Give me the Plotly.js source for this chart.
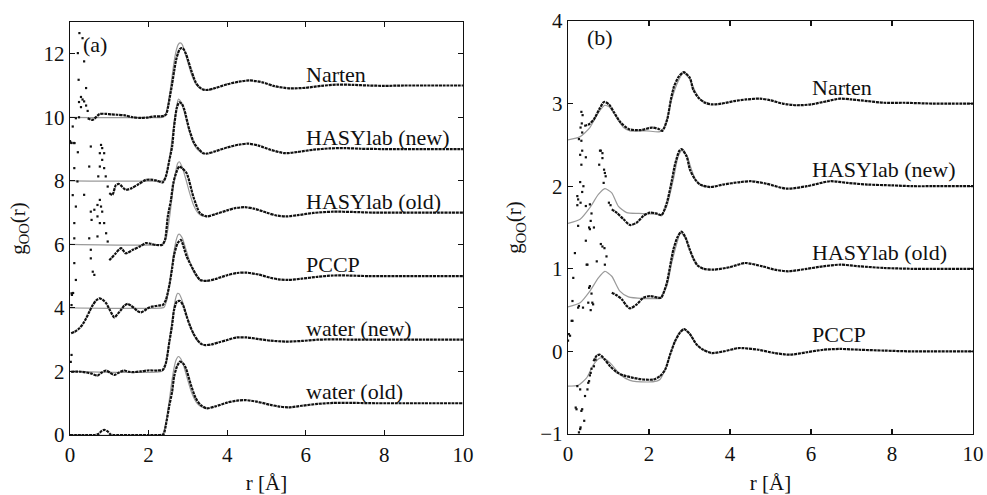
<!DOCTYPE html>
<html>
<head>
<meta charset="utf-8">
<script src="https://cdn.plot.ly/plotly-3.0.1.min.js"></script>
<style>
  html, body { margin: 0; padding: 0; background: #ffffff; }
  #chart { width: 987px; height: 495px; }
</style>
</head>
<body>
<div id="chart"></div>
<script>
// ---------- panel (a): g_OO(r), curves shifted by fixed offsets ----------
const labelsA = ["Narten", "HASYlab (new)", "HASYlab (old)", "PCCP", "water (new)", "water (old)"];
const offsetsA = [10, 8, 6, 4, 2, 0];

// measured data (smooth part)
const rNartenA = [0.45,0.58,0.75,0.9,1.05,1.2,1.4,1.6,1.8,2.0,2.15,2.3,2.4,2.45,2.5,2.55,2.6,2.65,2.7,2.75,2.8,2.85,2.9,2.95,3.0,3.08,3.15,3.2,3.3,3.4,3.5,3.7,4.0,4.3,4.58,4.9,5.2,5.6,6.0,6.4,6.8,7.2,7.6,8.0,8.5,9.0,9.5,10.0];
const gNartenA = [-0.03,-0.08,0.1,0.11,0.09,0.08,0.06,0.0,-0.02,0.0,0.03,0.03,0.05,0.1,0.35,0.7,1.05,1.45,1.8,2.02,2.15,2.18,2.13,2.0,1.82,1.5,1.25,1.1,0.94,0.87,0.86,0.92,1.04,1.12,1.16,1.1,0.98,0.91,0.93,0.99,1.03,1.02,1.0,0.99,1.0,1.0,1.0,1.0];
const rHasyNewA = [1.0,1.08,1.17,1.25,1.42,1.57,1.75,1.93,2.05,2.2,2.36,2.44,2.53,2.6,2.65,2.72,2.78,2.85,2.91,3.04,3.16,3.29,3.39,3.5,3.7,4.0,4.3,4.54,4.8,5.1,5.47,5.8,6.2,6.6,7.0,7.4,8.0,8.5,9.0,9.5,10.0];
const gHasyNewA = [-0.39,-0.44,-0.13,-0.1,-0.28,-0.23,-0.1,0.03,0.04,0.01,-0.05,0.14,0.66,1.08,1.71,2.3,2.47,2.42,2.24,1.6,1.19,0.98,0.87,0.86,0.93,1.05,1.14,1.17,1.11,0.98,0.87,0.91,0.98,1.02,1.03,1.01,1.0,1.0,1.0,1.0,1.0];
const rHasyOldA = [1.0,1.05,1.15,1.3,1.42,1.6,1.8,1.93,2.05,2.2,2.35,2.42,2.49,2.57,2.63,2.7,2.78,2.85,2.97,3.14,3.31,3.48,3.7,4.0,4.2,4.45,4.7,5.0,5.25,5.51,5.8,6.2,6.7,7.2,7.7,8.5,9.0,10.0];
const gHasyOldA = [-0.5,-0.44,-0.3,-0.12,-0.28,-0.17,-0.05,0.04,0.02,-0.02,-0.01,0.15,0.88,1.4,1.93,2.24,2.45,2.4,2.24,1.5,0.98,0.88,0.95,1.07,1.14,1.17,1.12,1.0,0.91,0.88,0.92,0.99,1.03,1.02,1.0,1.0,1.0,1.0];
const rPccpA = [0.03,0.12,0.24,0.33,0.41,0.5,0.58,0.67,0.75,0.83,0.92,1.02,1.13,1.22,1.3,1.38,1.47,1.55,1.64,1.72,1.81,1.9,1.98,2.08,2.19,2.3,2.36,2.44,2.53,2.6,2.65,2.74,2.82,2.97,3.14,3.31,3.48,3.7,4.0,4.25,4.5,4.8,5.1,5.3,5.56,5.9,6.3,6.7,7.1,7.6,8.0,8.5,9.0,10.0];
const gPccpA = [-0.8,-0.75,-0.64,-0.5,-0.33,-0.1,0.09,0.24,0.3,0.26,0.15,-0.08,-0.3,-0.18,-0.06,0.07,0.13,0.07,-0.01,-0.1,-0.14,-0.08,-0.01,0.04,0.06,0.08,0.09,0.25,0.72,1.25,1.67,2.04,2.14,1.62,1.2,0.88,0.85,0.91,1.03,1.1,1.11,1.05,0.95,0.9,0.88,0.92,0.98,1.02,1.02,1.0,1.0,1.0,1.0,1.0];
const rWaterNewA = [0.03,0.28,0.53,0.7,0.8,0.92,1.02,1.13,1.25,1.38,1.5,1.6,1.8,1.98,2.23,2.36,2.44,2.53,2.6,2.65,2.72,2.8,2.88,2.97,3.06,3.14,3.25,3.35,3.44,3.6,3.8,4.0,4.24,4.5,4.8,5.1,5.5,5.9,6.3,6.8,7.3,8.0,9.0,10.0];
const gWaterNewA = [-0.01,-0.01,-0.06,-0.13,-0.04,0.03,-0.04,-0.11,-0.03,0.03,-0.01,-0.02,0.0,0.03,0.03,0.05,0.26,0.94,1.46,1.94,2.2,2.22,2.08,1.73,1.42,1.2,0.98,0.86,0.83,0.85,0.92,0.99,1.07,1.07,1.02,0.97,0.94,0.96,1.0,1.01,1.0,1.0,1.0,1.0];
const rWaterOldA = [0.0,0.3,0.6,0.72,0.8,0.87,0.95,1.03,1.1,1.5,2.0,2.3,2.38,2.44,2.53,2.6,2.65,2.72,2.8,2.88,2.95,3.08,3.2,3.33,3.48,3.7,4.0,4.25,4.45,4.75,5.1,5.3,5.56,5.9,6.3,6.7,7.2,7.8,8.5,9.0,10.0];
const gWaterOldA = [0.0,0.0,0.0,0.03,0.12,0.16,0.12,0.02,0.0,0.0,0.0,0.0,0.02,0.31,0.94,1.36,1.84,2.15,2.31,2.25,2.1,1.57,1.16,0.94,0.84,0.9,1.02,1.08,1.1,1.05,0.95,0.9,0.87,0.92,0.98,1.01,1.01,1.0,1.0,1.0,1.0];

// fitted model curves
const rNartenAFit = [0,2.35,2.4,2.45,2.5,2.55,2.6,2.65,2.7,2.75,2.8,2.85,2.9,3.0,3.1,3.2,3.3,3.4,3.5,3.7];
const gNartenAFit = [0,0,0.02,0.15,0.45,0.85,1.3,1.75,2.08,2.28,2.34,2.3,2.15,1.72,1.32,1.05,0.92,0.87,0.86,0.92];
const rHasyNewAFit = [0,2.35,2.4,2.45,2.5,2.55,2.6,2.65,2.7,2.76,2.82,2.9,3.0,3.1,3.2,3.3,3.4,3.5];
const gHasyNewAFit = [0,0,0.02,0.15,0.45,0.85,1.35,1.85,2.25,2.57,2.5,2.2,1.72,1.3,1.05,0.92,0.86,0.86];
const rHasyOldAFit = [0,2.35,2.4,2.45,2.5,2.55,2.6,2.65,2.7,2.74,2.78,2.85,2.95,3.05,3.15,3.25,3.35,3.48];
const gHasyOldAFit = [0,0,0.05,0.2,0.55,1.0,1.5,1.98,2.35,2.55,2.6,2.45,2.05,1.6,1.22,1.0,0.9,0.87];
const rPccpAFit = [0,2.35,2.4,2.45,2.5,2.55,2.6,2.65,2.7,2.75,2.78,2.85,2.95,3.05,3.15,3.25,3.35,3.48];
const gPccpAFit = [0,0,0.03,0.18,0.5,0.9,1.35,1.8,2.12,2.3,2.32,2.22,1.85,1.45,1.12,0.95,0.87,0.85];
const rWaterNewAFit = [0,2.33,2.4,2.45,2.5,2.55,2.6,2.65,2.7,2.74,2.78,2.85,2.95,3.05,3.15,3.25,3.35,3.44];
const gWaterNewAFit = [0,0,0.08,0.3,0.7,1.15,1.62,2.05,2.35,2.46,2.44,2.25,1.85,1.45,1.15,0.95,0.86,0.83];
const rWaterOldAFit = [0,2.3,2.35,2.4,2.45,2.5,2.55,2.6,2.65,2.7,2.76,2.82,2.9,3.0,3.1,3.2,3.3,3.4,3.48];
const gWaterOldAFit = [0,0,0.02,0.15,0.45,0.85,1.3,1.75,2.12,2.36,2.47,2.4,2.15,1.72,1.32,1.06,0.92,0.86,0.84];

// sparse low-r data points
const rNartenAPts = [0.0,0.03,0.07,0.11,0.15,0.2,0.22,0.23,0.23,0.24,0.28,0.28,0.32,0.32,0.36,0.36,0.41,0.41,0.45];
const gNartenAPts = [-0.76,-0.8,-0.29,-0.81,-0.03,2.02,1.18,0.48,0.0,2.65,0.64,0.32,2.49,0.56,1.76,0.5,0.92,0.37,0.2];
const rHasyNewAPts = [0.0,0.04,0.07,0.11,0.11,0.19,0.2,0.36,0.49,0.53,0.72,0.76,0.76,0.79,0.82,0.82,0.87,0.87,0.91,0.96];
const gHasyNewAPts = [1.24,1.19,-0.45,1.19,0.4,-0.02,0.9,-0.44,0.45,1.08,0.14,0.87,0.45,1.13,1.03,0.66,0.87,0.4,0.14,-0.18];
const rHasyOldAPts = [0.11,0.11,0.11,0.15,0.15,0.49,0.53,0.53,0.53,0.55,0.58,0.62,0.62,0.7,0.7,0.7,0.76,0.76,0.79,0.82,0.87,0.92,0.96];
const gHasyOldAPts = [0.67,0.19,-0.59,1.19,-1.12,0.19,1.03,-0.17,-0.44,0.77,-0.86,1.09,-0.96,1.24,0.88,0.25,0.67,1.4,1.19,1.03,0.67,0.35,0.09];
const rPccpAPts = [0.04,0.05,0.04,0.08];
const gPccpAPts = [0.46,0.41,0.09,0.47];
const rWaterNewAPts = [0.04,0.02];
const gWaterNewAPts = [0.52,0.3];

// ---------- panel (b): curves shifted by fixed offsets ----------
const labelsB = ["Narten", "HASYlab (new)", "HASYlab (old)", "PCCP"];
const offsetsB = [3, 2, 1, 0];

const rNartenB = [0.4,0.52,0.64,0.77,0.89,1.01,1.14,1.3,1.51,1.8,2.08,2.25,2.33,2.45,2.54,2.62,2.74,2.86,3.01,3.09,3.22,3.38,3.55,3.8,4.1,4.4,4.74,5.0,5.3,5.64,6.0,6.4,6.72,7.0,7.4,7.8,8.3,9.0,9.5,10.0];
const gNartenB = [-0.27,-0.25,-0.19,-0.07,0.02,-0.01,-0.11,-0.23,-0.31,-0.32,-0.29,-0.31,-0.33,-0.19,0.05,0.21,0.33,0.38,0.31,0.17,0.07,0.01,-0.01,0.0,0.03,0.05,0.06,0.04,0.0,-0.02,-0.01,0.03,0.06,0.05,0.03,0.01,0.01,0.0,0.0,0.0];
const rHasyNewB = [1.08,1.2,1.37,1.53,1.7,1.86,2.02,2.19,2.31,2.44,2.56,2.64,2.75,2.8,2.93,3.01,3.14,3.26,3.51,3.83,4.25,4.53,4.9,5.4,5.9,6.47,6.9,7.4,8.0,8.5,9.0,10.0];
const gHasyNewB = [-0.28,-0.32,-0.4,-0.47,-0.44,-0.36,-0.32,-0.33,-0.35,-0.2,0.06,0.26,0.43,0.45,0.36,0.2,0.08,0.02,-0.01,0.02,0.05,0.06,0.03,-0.03,0.0,0.06,0.04,0.02,0.01,0.0,0.0,0.0];
const rHasyOldB = [1.08,1.2,1.33,1.45,1.53,1.7,1.86,2.02,2.23,2.3,2.44,2.52,2.6,2.7,2.8,2.9,3.0,3.1,3.2,3.35,3.6,4.0,4.37,4.8,5.1,5.44,5.9,6.3,6.72,7.2,7.8,8.5,9.0,10.0];
const gHasyOldB = [-0.29,-0.32,-0.37,-0.45,-0.48,-0.43,-0.35,-0.33,-0.35,-0.35,-0.17,0.03,0.23,0.38,0.45,0.38,0.24,0.12,0.04,0.0,-0.01,0.02,0.07,0.03,-0.01,-0.03,0.0,0.03,0.05,0.03,0.01,0.0,0.0,0.0];
const rPccpB = [0.63,0.71,0.79,0.91,1.04,1.2,1.37,1.61,1.86,2.11,2.27,2.4,2.52,2.64,2.77,2.87,3.01,3.18,3.34,3.55,3.84,4.2,4.33,4.7,5.1,5.48,5.9,6.3,6.72,7.2,7.8,8.5,9.0,10.0];
const gPccpB = [-0.12,-0.05,-0.04,-0.1,-0.18,-0.25,-0.29,-0.32,-0.34,-0.34,-0.3,-0.22,-0.04,0.12,0.23,0.27,0.21,0.08,0.02,-0.02,0.0,0.04,0.04,0.02,-0.02,-0.04,-0.01,0.02,0.03,0.02,0.01,0.0,0.0,0.0];

const rNartenBFit = [0,0.3,0.54,0.75,0.91,1.04,1.2,1.37,1.53,1.94,2.27,2.4,2.56,2.72,2.85,3.0,3.15,3.3,3.5];
const gNartenBFit = [-0.44,-0.4,-0.29,-0.11,-0.02,-0.05,-0.17,-0.29,-0.33,-0.33,-0.34,-0.27,0.05,0.27,0.37,0.3,0.14,0.04,0.0];
const rHasyNewBFit = [0,0.3,0.54,0.75,0.91,1.08,1.24,1.45,1.75,2.19,2.3,2.44,2.6,2.72,2.83,2.95,3.05,3.15,3.3,3.5];
const gHasyNewBFit = [-0.45,-0.4,-0.26,-0.1,-0.03,-0.08,-0.24,-0.32,-0.33,-0.34,-0.35,-0.24,0.08,0.36,0.45,0.35,0.2,0.08,0.01,-0.01];
const rHasyOldBFit = [0,0.3,0.54,0.75,0.91,1.08,1.28,1.49,1.86,2.19,2.27,2.44,2.56,2.7,2.78,2.9,3.0,3.1,3.2,3.35];
const gHasyOldBFit = [-0.46,-0.41,-0.27,-0.11,-0.03,-0.09,-0.27,-0.34,-0.36,-0.36,-0.36,-0.21,0.07,0.33,0.44,0.37,0.24,0.12,0.04,0.0];
const rPccpBFit = [0,0.25,0.46,0.63,0.79,0.91,1.08,1.28,1.53,1.94,2.19,2.27,2.4,2.56,2.72,2.85,3.0,3.15,3.3,3.5];
const gPccpBFit = [-0.42,-0.41,-0.32,-0.16,-0.08,-0.09,-0.16,-0.28,-0.35,-0.37,-0.36,-0.34,-0.22,0.02,0.21,0.27,0.21,0.1,0.03,-0.01];

const rNartenBPts = [0.27,0.31,0.33,0.33,0.34,0.35,0.36];
const gNartenBPts = [-0.43,-0.29,-0.1,-0.45,-0.24,-0.35,-0.14];
const rHasyNewBPts = [0.23,0.23,0.25,0.25,0.3,0.3,0.31,0.33,0.35,0.35,0.38,0.44,0.44,0.52,0.54,0.54,0.56,0.58,0.64,0.77,0.79,0.81,0.85,0.85,0.88,0.89,0.91,0.93,1.01,1.05];
const gHasyNewBPts = [-0.12,-0.23,-0.16,-0.48,0.38,0.05,-0.2,0.26,0.43,-0.07,0.0,0.35,-0.24,-0.5,-0.22,-0.52,-0.42,-0.33,-0.5,0.26,0.43,0.43,0.4,0.34,0.04,0.2,0.16,0.12,-0.2,-0.23];
const rHasyOldBPts = [0.0,0.02,0.05,0.09,0.11,0.11,0.13,0.17,0.25,0.27,0.37,0.44,0.46,0.48,0.5,0.52,0.54,0.56,0.58,0.6,0.62,0.71,0.81,0.85,0.9,0.91,0.95];
const gHasyOldBPts = [-0.87,-0.79,-0.81,-0.63,-0.39,-0.63,-0.11,0.19,-0.47,-0.45,-0.47,0.34,0.05,0.05,-0.41,-0.23,-0.21,-0.5,-0.3,-0.41,-0.43,0.09,0.3,0.27,0.25,0.05,0.15];
const rPccpBPts = [0.19,0.21,0.23,0.27,0.3,0.3,0.31,0.33,0.35,0.4,0.42,0.48,0.5,0.52,0.54,0.56,0.58,0.64,0.68];
const gPccpBPts = [-0.68,-0.7,-0.42,-0.98,-0.46,-0.94,-0.92,-0.72,-0.7,-0.84,-0.54,-0.46,-0.38,-0.36,-0.29,-0.26,-0.21,-0.18,-0.1];

// ---------- assembling traces ----------
const FONT = "Liberation Serif, Times New Roman, serif";
const INK = "#111111";
const DATA_LINE = { color: INK, width: 2.2, dash: "3px,0.8px", shape: "spline", smoothing: 0.7 };
const FIT_LINE = { color: "#9a9a9a", width: 1.2, shape: "spline", smoothing: 0.6 };
const PTS_MARKER = { color: INK, size: 2.2, symbol: "square" };

const shift = (arr, off) => arr.map(v => v + off);
const traces = [];

function addSeries(xa, ya, off, fitR, fitG, r, g, ptsR, ptsG) {
  traces.push({ x: fitR, y: shift(fitG, off), xaxis: xa, yaxis: ya, mode: "lines",
                line: FIT_LINE, hoverinfo: "skip" });
  traces.push({ x: r, y: shift(g, off), xaxis: xa, yaxis: ya, mode: "lines",
                line: DATA_LINE, hoverinfo: "skip" });
  if (ptsR) {
    traces.push({ x: ptsR, y: shift(ptsG, off), xaxis: xa, yaxis: ya, mode: "markers",
                  marker: PTS_MARKER, hoverinfo: "skip" });
  }
}

addSeries("x", "y", offsetsA[0], rNartenAFit, gNartenAFit, rNartenA, gNartenA, rNartenAPts, gNartenAPts);
addSeries("x", "y", offsetsA[1], rHasyNewAFit, gHasyNewAFit, rHasyNewA, gHasyNewA, rHasyNewAPts, gHasyNewAPts);
addSeries("x", "y", offsetsA[2], rHasyOldAFit, gHasyOldAFit, rHasyOldA, gHasyOldA, rHasyOldAPts, gHasyOldAPts);
addSeries("x", "y", offsetsA[3], rPccpAFit, gPccpAFit, rPccpA, gPccpA, rPccpAPts, gPccpAPts);
addSeries("x", "y", offsetsA[4], rWaterNewAFit, gWaterNewAFit, rWaterNewA, gWaterNewA, rWaterNewAPts, gWaterNewAPts);
addSeries("x", "y", offsetsA[5], rWaterOldAFit, gWaterOldAFit, rWaterOldA, gWaterOldA, null, null);

addSeries("x2", "y2", offsetsB[0], rNartenBFit, gNartenBFit, rNartenB, gNartenB, rNartenBPts, gNartenBPts);
addSeries("x2", "y2", offsetsB[1], rHasyNewBFit, gHasyNewBFit, rHasyNewB, gHasyNewB, rHasyNewBPts, gHasyNewBPts);
addSeries("x2", "y2", offsetsB[2], rHasyOldBFit, gHasyOldBFit, rHasyOldB, gHasyOldB, rHasyOldBPts, gHasyOldBPts);
addSeries("x2", "y2", offsetsB[3], rPccpBFit, gPccpBFit, rPccpB, gPccpB, rPccpBPts, gPccpBPts);

// ---------- labels ----------
const LABEL_FONT = { family: FONT, size: 22, color: INK };
const annotations = [];
labelsA.forEach((t, i) => annotations.push({
  xref: "x", yref: "y", x: 5.95, y: offsetsA[i] + 1.36, text: t, showarrow: false,
  xanchor: "left", yanchor: "middle", font: LABEL_FONT
}));
labelsB.forEach((t, i) => annotations.push({
  xref: "x2", yref: "y2", x: 5.97, y: offsetsB[i] + 0.2, text: t, showarrow: false,
  xanchor: "left", yanchor: "middle", font: LABEL_FONT
}));
annotations.push({ xref: "x", yref: "y", x: 0.28, y: 12.28, text: "(a)", showarrow: false,
  xanchor: "left", yanchor: "middle", font: LABEL_FONT });
annotations.push({ xref: "x2", yref: "y2", x: 0.43, y: 3.8, text: "(b)", showarrow: false,
  xanchor: "left", yanchor: "middle", font: LABEL_FONT });

const axisBase = {
  showline: true, linecolor: INK, linewidth: 1.3, mirror: "ticks",
  ticks: "inside", ticklen: 5, tickwidth: 1.1, tickcolor: INK,
  showgrid: false, zeroline: false,
  tickfont: { family: FONT, size: 21, color: INK }
};
const xTitle = { text: "r [Å]", font: { family: FONT, size: 21, color: INK }, standoff: 16 };
const yTitle = { text: "g<sub>OO</sub>(r)", font: { family: FONT, size: 21, color: INK }, standoff: 12 };

const layout = {
  width: 987, height: 495,
  margin: { l: 0, r: 0, t: 0, b: 0 },
  paper_bgcolor: "#ffffff", plot_bgcolor: "#ffffff",
  showlegend: false,
  font: { family: FONT, size: 21, color: INK },
  xaxis: Object.assign({}, axisBase, { domain: [0.0709, 0.469], range: [0, 10], dtick: 2, anchor: "y", title: xTitle }),
  yaxis: Object.assign({}, axisBase, { domain: [0.1212, 0.9556], range: [0, 13], dtick: 2, anchor: "x", title: yTitle }),
  xaxis2: Object.assign({}, axisBase, { domain: [0.5755, 0.9858], range: [0, 10], dtick: 2, anchor: "y2", title: xTitle }),
  yaxis2: Object.assign({}, axisBase, { domain: [0.1232, 0.9576], range: [-1, 4], dtick: 1, anchor: "x2", title: yTitle }),
  annotations: annotations
};

Plotly.newPlot("chart", traces, layout, { staticPlot: true, displayModeBar: false });
</script>
</body>
</html>
